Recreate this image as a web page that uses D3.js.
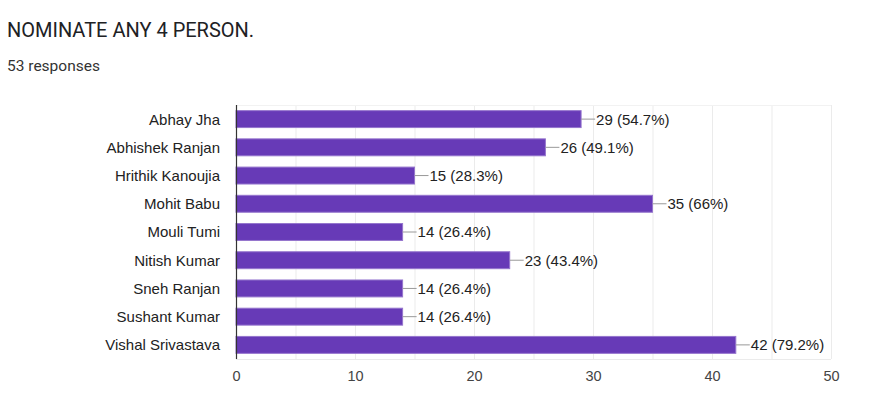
<!DOCTYPE html>
<html><head><meta charset="utf-8">
<script src="https://cdn.jsdelivr.net/npm/d3@7"></script>
<style>body{margin:0;background:#fff;}svg{display:block;}</style>
</head><body>
<svg id="c" width="890" height="406"></svg>
<script>
const categories = ["Abhay Jha","Abhishek Ranjan","Hrithik Kanoujia","Mohit Babu","Mouli Tumi","Nitish Kumar","Sneh Ranjan","Sushant Kumar","Vishal Srivastava"];
const counts = [29,26,15,35,14,23,14,14,42];
const percents = ["54.7%","49.1%","28.3%","66%","26.4%","43.4%","26.4%","26.4%","79.2%"];
const tickValues = [0,10,20,30,40,50];
const gridValues = [0,5,10,15,20,25,30,35,40,45,50];
const title = "NOMINATE ANY 4 PERSON.";
const subtitle = "53 responses";

(function(){
const svg = d3.select("#c");
svg.append("text").attr("x",7).attr("y",37).attr("font-family","Roboto, 'Open Sans', sans-serif")
  .attr("font-size",20).attr("fill","#202124").text(title);
svg.append("text").attr("x",7).attr("y",71).attr("font-family","Roboto, Arial, sans-serif")
  .attr("font-size",15.5).attr("fill","#333").text(subtitle);

const pLeft=236, pRight=831, pTop=105, pBottom=359;
const x = d3.scaleLinear().domain([0,50]).range([pLeft,pRight]);
const y = d3.scaleBand().domain(categories).range([pTop,pBottom]).paddingInner(0.4).paddingOuter(0.2);
const font = "'Liberation Sans', Arial, sans-serif";

const g = svg.append("g");
g.selectAll("line.grid").data(gridValues).enter().append("line")
  .attr("x1",d=>x(d)+0.5).attr("x2",d=>x(d)+0.5).attr("y1",pTop).attr("y2",pBottom)
  .attr("stroke","#ebebeb").attr("stroke-width",1);
g.append("line").attr("x1",pLeft).attr("x2",pRight).attr("y1",pBottom+0.5).attr("y2",pBottom+0.5).attr("stroke","#ebebeb");
g.append("line").attr("x1",pLeft).attr("x2",pRight).attr("y1",pTop+0.5).attr("y2",pTop+0.5).attr("stroke","#f2f2f2");

g.selectAll("rect.bar").data(counts).enter().append("rect")
  .attr("x",x(0)).attr("y",(d,i)=>y(categories[i]))
  .attr("width",d=>x(d)-x(0)).attr("height",y.bandwidth())
  .attr("fill","#673ab7").attr("stroke","#9575cd").attr("stroke-width",1);

g.selectAll("line.lead").data(counts).enter().append("line")
  .attr("x1",d=>x(d)).attr("x2",d=>x(d)+14)
  .attr("y1",(d,i)=>y(categories[i])+y.bandwidth()/2).attr("y2",(d,i)=>y(categories[i])+y.bandwidth()/2)
  .attr("stroke","#999").attr("stroke-width",1);

g.selectAll("text.val").data(counts).enter().append("text")
  .attr("x",d=>x(d)+15).attr("y",(d,i)=>y(categories[i])+y.bandwidth()/2).attr("dy","0.36em")
  .attr("font-family",font).attr("font-size",15).attr("fill","#222")
  .text((d,i)=>`${d} (${percents[i]})`);

g.selectAll("text.cat").data(categories).enter().append("text")
  .attr("x",220).attr("y",d=>y(d)+y.bandwidth()/2).attr("dy","0.36em").attr("text-anchor","end")
  .attr("font-family",font).attr("font-size",15).attr("fill","#222").text(d=>d);

g.append("line").attr("x1",pLeft+0.5).attr("x2",pLeft+0.5).attr("y1",pTop).attr("y2",pBottom)
  .attr("stroke","#333").attr("stroke-width",1.2);

const xAxis = d3.axisBottom(x).tickValues(tickValues).tickSize(0).tickPadding(12);
const ax = svg.append("g").attr("transform",`translate(0,${pBottom})`).call(xAxis);
ax.select(".domain").remove();
ax.selectAll("text").attr("font-family",font).attr("font-size",14.5).attr("fill","#444");
})();
</script>
</body></html>
